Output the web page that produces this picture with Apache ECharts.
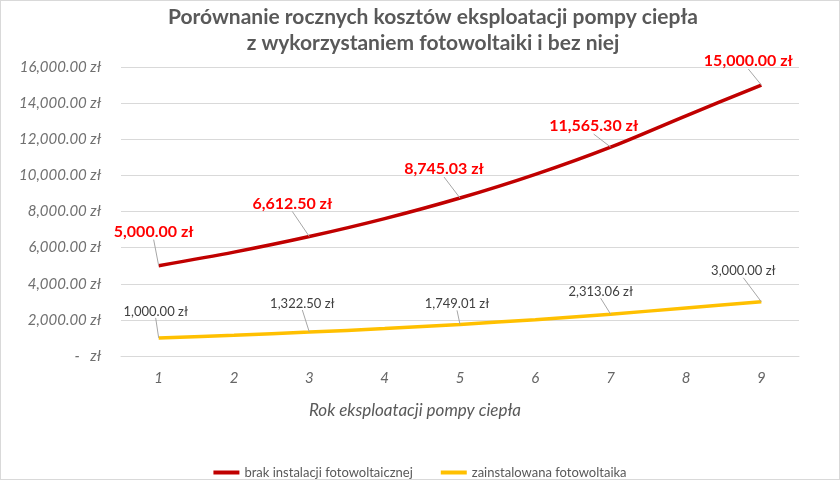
<!DOCTYPE html>
<html><head><meta charset="utf-8">
<script src="https://cdn.jsdelivr.net/npm/echarts@6/dist/echarts.min.js"></script>
<style>html,body{margin:0;padding:0;background:#fff}#c{width:840px;height:480px;box-sizing:border-box;border:1px solid #d9d9d9}</style>
</head><body><div id="c"></div>
<script>
const years = ['1','2','3','4','5','6','7','8','9'];
const bezFotowoltaiki = [5000, 5750, 6612.50, 7604.38, 8745.03, 10056.79, 11565.30, 13300.10, 15000];
const zFotowoltaika = [1000, 1150, 1322.50, 1520.88, 1749.01, 2011.36, 2313.06, 2660.02, 3000];
const yTicks = [0, 2000, 4000, 6000, 8000, 10000, 12000, 14000, 16000];
const seriesNames = ['brak instalacji fotowoltaicznej', 'zainstalowana fotowoltaika'];

const fmt = v => v === 0 ? '-   zł' : v.toLocaleString('en-US', {minimumFractionDigits: 2, maximumFractionDigits: 2}) + ' zł';
const FONT = 'Lato';

const redOff = [[-5,-21],null,[-17,-20],null,[-16,-16],null,[-17,-8],null,[-13,-11]];
const yelOff = [[-3,-15],null,[-7,-17],null,[-3,-9],null,[-10,-11],null,[-18,-19]];

const chart = echarts.init(document.getElementById('c'));
chart.setOption({
  animation: false,
  title: {
    text: 'Porównanie rocznych kosztów eksploatacji pompy ciepła\nz wykorzystaniem fotowoltaiki i bez niej',
    left: 427, textAlign: 'center', top: -2,
    textStyle: {fontFamily: FONT, fontWeight: 'bold', fontSize: 21, color: '#595959', lineHeight: 26}
  },
  legend: {
    bottom: -5, left: 'center', itemGap: 28, itemWidth: 26, itemHeight: 4, icon: 'rect',
    textStyle: {fontFamily: FONT, fontSize: 13, color: '#595959'},
    data: seriesNames
  },
  grid: {left: 120, right: 40, top: 66, bottom: 123},
  xAxis: {
    type: 'category', data: years, boundaryGap: true,
    name: 'Rok eksploatacji pompy ciepła', nameLocation: 'middle', nameGap: 46,
    nameTextStyle: {fontFamily: FONT, fontStyle: 'italic', fontSize: 17, color: '#595959', padding: [0, 90, 0, 0]},
    axisLine: {lineStyle: {color: '#d9d9d9'}}, axisTick: {show: false},
    axisLabel: {fontFamily: FONT, fontStyle: 'italic', fontSize: 15, color: '#666666', margin: 15}
  },
  yAxis: {
    type: 'value', min: yTicks[0], max: yTicks[yTicks.length-1], interval: 2000,
    axisLine: {show: false}, axisTick: {show: false},
    splitLine: {lineStyle: {color: '#d9d9d9'}},
    axisLabel: {fontFamily: FONT, fontStyle: 'italic', fontSize: 15, color: '#707070', margin: 20, formatter: fmt}
  },
  series: [
    {
      name: seriesNames[0], type: 'line', smooth: 0.3, symbol: 'circle', symbolSize: 0.1, showAllSymbol: true,
      lineStyle: {color: '#C00000', width: 3.5}, itemStyle: {color: '#C00000'},
      data: bezFotowoltaiki.map((v, i) => ({value: v, label: {show: i % 2 === 0}})),
      label: {position: 'top', formatter: p => fmt(p.value), fontFamily: FONT, fontWeight: 'bold', fontSize: 16, color: '#FF0000'},
      labelLine: {show: true, lineStyle: {color: '#a6a6a6', width: 1}},
      labelLayout: p => { const o = redOff[p.dataIndex] || [0,0]; return {dx: o[0], dy: o[1]}; }
    },
    {
      name: seriesNames[1], type: 'line', smooth: 0.3, symbol: 'circle', symbolSize: 0.1, showAllSymbol: true,
      lineStyle: {color: '#FFC000', width: 3.5}, itemStyle: {color: '#FFC000'},
      data: zFotowoltaika.map((v, i) => ({value: v, label: {show: i % 2 === 0}})),
      label: {position: 'top', formatter: p => fmt(p.value), fontFamily: FONT, fontSize: 13, color: '#404040'},
      labelLine: {show: true, lineStyle: {color: '#a6a6a6', width: 1}},
      labelLayout: p => { const o = yelOff[p.dataIndex] || [0,0]; return {dx: o[0], dy: o[1]}; }
    }
  ]
});
</script></body></html>
